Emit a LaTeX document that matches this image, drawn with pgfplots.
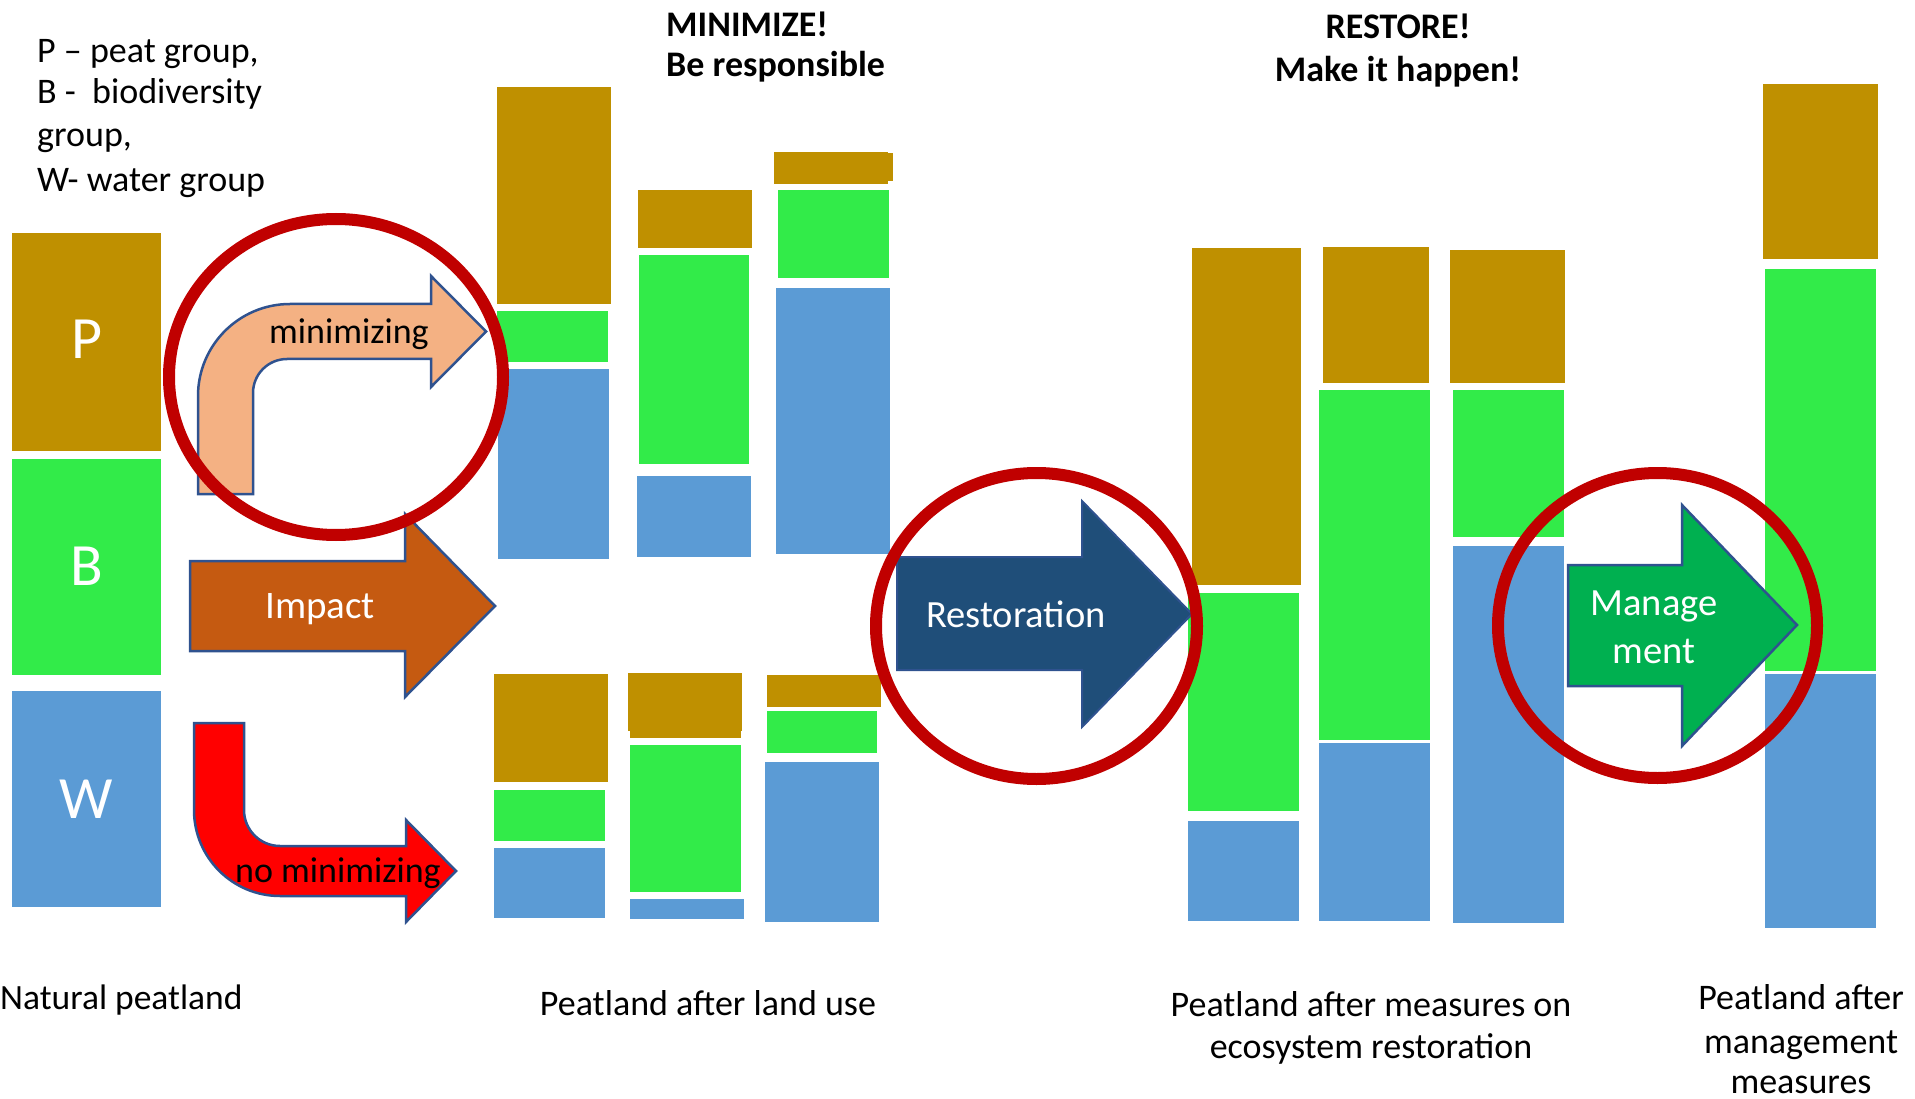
\documentclass[border=0pt]{standalone}
\usepackage{fontspec}
\setmainfont{Carlito}
\usepackage{pgfplots}
\pgfplotsset{compat=1.18}
\definecolor{gold}{HTML}{BF9000}
\definecolor{grn}{HTML}{32EB49}
\definecolor{blu}{HTML}{5B9BD5}
\definecolor{peach}{HTML}{F4B183}
\definecolor{orng}{HTML}{C55A11}
\definecolor{rd}{HTML}{FF0000}
\definecolor{dblue}{HTML}{1F4E79}
\definecolor{mgreen}{HTML}{00B050}
\definecolor{outl}{HTML}{2F528F}
\definecolor{circ}{HTML}{C00000}
\newcommand{\fs}[1]{\fontsize{#1}{#1}\selectfont}
% one coloured segment of a bar: colour, x left, x right, y top, y bottom (pixels, y downwards)
\newcommand{\seg}[5]{\addplot[fill=#1, draw=none, forget plot] coordinates {(#2,#4) (#3,#4) (#3,#5) (#2,#5)} -- cycle;}
\begin{document}
\begin{tikzpicture}
\begin{axis}[width=1915pt, height=1099pt, scale only axis,
  xmin=0, xmax=1915, ymin=0, ymax=1099, y dir=reverse,
  hide axis, clip=false]
\path (0,0) rectangle (1915,1099);
% ---- Natural peatland
\seg{gold}{12}{161}{233}{451}
\seg{grn}{12}{161}{459}{675}
\seg{blu}{12}{161}{691}{907}
% ---- after land use, upper (minimizing)
\seg{gold}{497}{611}{87}{304}
\seg{grn}{497}{608}{311}{362}
\seg{blu}{498}{609}{369}{559}
\seg{gold}{638}{752}{190}{248}
\seg{grn}{639}{749}{255}{464}
\seg{blu}{637}{751}{476}{557}
\seg{gold}{774}{888}{152}{184}
\seg{gold}{886}{893}{153}{181}
\seg{grn}{778}{889}{190}{278}
\seg{blu}{776}{890}{288}{554}
% ---- after land use, lower (no minimizing)
\seg{gold}{494}{608}{674}{782}
\seg{grn}{494}{605}{790}{841}
\seg{blu}{494}{605}{848}{918}
\seg{gold}{628}{742}{673}{731}
\seg{gold}{630}{741}{730}{738}
\seg{grn}{630}{741}{745}{892}
\seg{blu}{630}{744}{899}{919}
\seg{gold}{767}{881}{675}{707}
\seg{grn}{767}{877}{711}{753}
\seg{blu}{765}{879}{762}{922}
% ---- after restoration
\seg{gold}{1192}{1301}{248}{585}
\seg{grn}{1188}{1299}{593}{811}
\seg{blu}{1188}{1299}{821}{921}
\seg{gold}{1323}{1429}{247}{383}
\seg{grn}{1319}{1430}{390}{740}
\seg{blu}{1319}{1430}{743}{921}
\seg{gold}{1450}{1565}{250}{383}
\seg{grn}{1453}{1564}{390}{537}
\seg{blu}{1453}{1564}{546}{923}
% ---- after management
\seg{gold}{1763}{1878}{84}{259}
\seg{grn}{1765}{1876}{269}{671}
\seg{blu}{1765}{1876}{674}{928}
% ---- arrows
\draw[fill=peach, draw=outl, line width=2.5pt, line join=miter]
  (198,494) -- (198,396) .. controls (198,345.2) and (239.2,304) .. (290,304)
  -- (431,304) -- (431,276) -- (486,331.5) -- (431,387) -- (431,359) -- (287,359)
  .. controls (268.2,359) and (253,374.2) .. (253,393) -- (253,494) -- cycle;
\draw[fill=orng, draw=outl, line width=2.5pt, line join=miter]
  (190,561) -- (405,561) -- (405,514) -- (495,606) -- (405,697) -- (405,651) -- (190,651) -- cycle;
\draw[fill=rd, draw=outl, line width=2.5pt, line join=miter]
  (194,723) -- (244,723) -- (244,810) .. controls (244,829.9) and (260.1,846) .. (280,846)
  -- (406,846) -- (406,820) -- (456,871) -- (406,922) -- (406,896) -- (280,896)
  .. controls (232.5,896) and (194,857.5) .. (194,810) -- cycle;
\draw[fill=dblue, draw=outl, line width=2pt, line join=miter]
  (897,557) -- (1082,557) -- (1082,501) -- (1192,614) -- (1082,727) -- (1082,670) -- (897,670) -- cycle;
\draw[fill=mgreen, draw=outl, line width=2.5pt, line join=miter]
  (1568,565) -- (1682,565) -- (1682,505) -- (1797,625) -- (1682,746) -- (1682,686) -- (1568,686) -- cycle;
% ---- red circles
\draw[circ, line width=12pt] (336,377) ellipse [x radius=167pt, y radius=158pt];
\draw[circ, line width=12pt] (1036.5,626) ellipse [x radius=160.5pt, y radius=153pt];
\draw[circ, line width=12pt] (1657.5,625.5) ellipse [x radius=159.5pt, y radius=152.5pt];
% ---- texts
\begin{scope}[every node/.style={inner sep=0pt}]
\node[anchor=base west] at (37,63) {\fs{36}P – peat group,};
\node[anchor=base west] at (37,104) {\fs{36}B -\ \ biodiversity};
\node[anchor=base west] at (37,147) {\fs{36}group,};
\node[anchor=base west] at (37,192) {\fs{36}W- water group};
\node[anchor=base, white] at (86.5,359) {\fs{60}P};
\node[anchor=base, white] at (86.5,585) {\fs{60}B};
\node[anchor=base, white] at (86.5,818) {\fs{60}W};
\node[anchor=base west] at (269,344) {\fs{36}minimizing};
\node[anchor=base west, white] at (265,618) {\fs{39}Impact};
\node[anchor=base west] at (235,882) {\fs{36}no minimizing};
\node[anchor=base west, white] at (926,627) {\fs{38.5}Restoration};
\node[anchor=base, white] at (1654,615) {\fs{38.5}Manage};
\node[anchor=base, white] at (1654,663) {\fs{38.5}ment};
\node[anchor=base west] at (666,37) {\fs{36}\bfseries MINIMIZE!};
\node[anchor=base west] at (666,77) {\fs{36}\bfseries Be responsible};
\node[anchor=base] at (1398,39) {\fs{36}\bfseries RESTORE!};
\node[anchor=base] at (1398,82) {\fs{36}\bfseries Make it happen!};
\node[anchor=base west] at (0,1009) {\fs{35.5}Natural peatland};
\node[anchor=base] at (708,1015) {\fs{36}Peatland after land use};
\node[anchor=base] at (1371,1016) {\fs{36}Peatland after measures on};
\node[anchor=base] at (1371,1058) {\fs{36}ecosystem restoration};
\node[anchor=base] at (1801,1009) {\fs{36}Peatland after};
\node[anchor=base] at (1801,1053) {\fs{36}management};
\node[anchor=base] at (1801,1093) {\fs{36}measures};
\end{scope}
\end{axis}
\end{tikzpicture}
\end{document}
